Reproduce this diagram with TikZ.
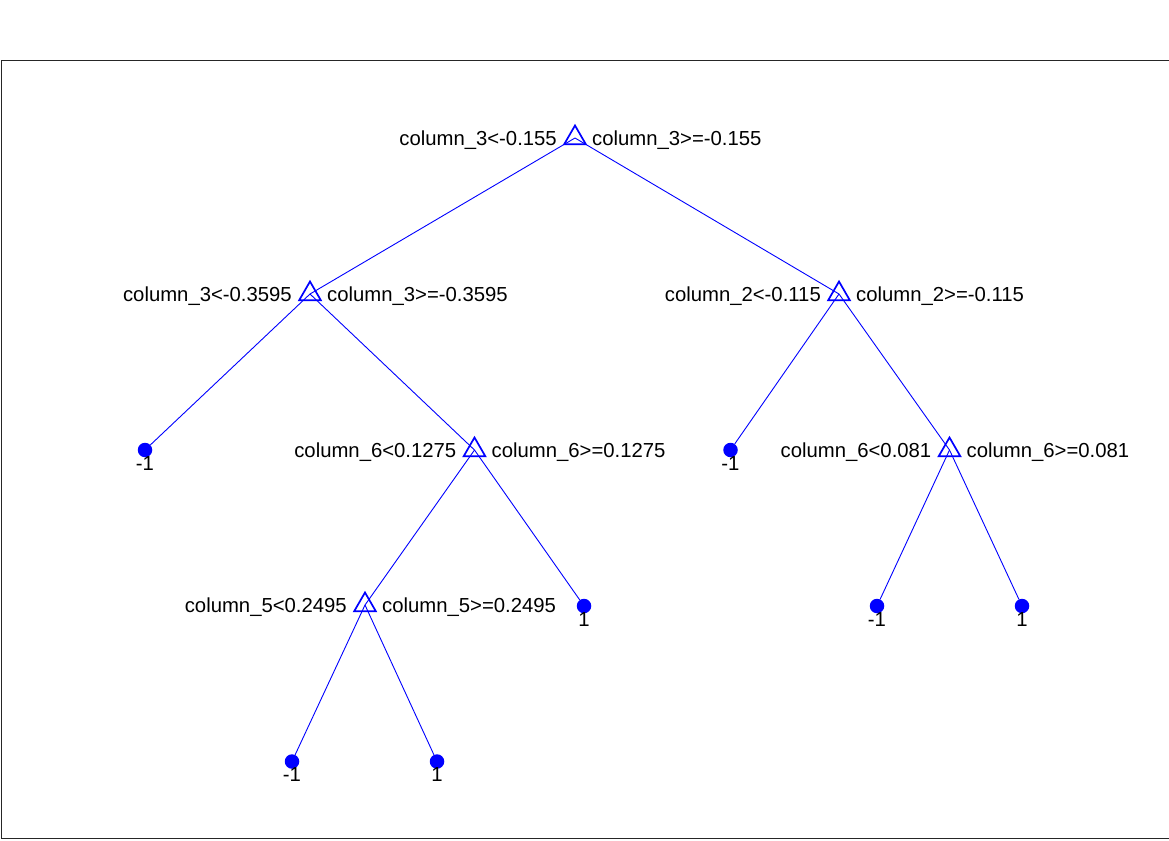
\documentclass[tikz,border=0pt]{standalone}
\usepackage{fontspec}
\setmainfont{Liberation Sans}
\usetikzlibrary{shapes.geometric}

\tikzset{
  split/.style={draw=blue, line width=1.7pt, regular polygon, regular polygon sides=3, minimum size=25pt, inner sep=0pt},
  leaf/.style={circle, fill=blue, minimum size=14.5pt, inner sep=0pt},
  edge/.style={blue, line width=0.9pt},
  cond/.style={inner sep=0pt, font=\fontsize{20.3}{24}\selectfont},
}

\begin{document}
\begin{tikzpicture}[x=1pt, y=-1pt]
\useasboundingbox (0,0) rectangle (1169,840);

\draw[line width=1pt, black!85] (1169,60.5) -- (1,60.5) -- (1,838.5) -- (1169,838.5);

% split nodes
\node[split] (root) at (575,138) {};
\node[split] (n2) at (310,294) {};
\node[split] (n3) at (839,294) {};
\node[split] (n5) at (474.5,450) {};
\node[split] (n7) at (949.5,450) {};
\node[split] (n8) at (365,605) {};

% leaves
\node[leaf] (n4) at (145,450) {};
\node[leaf] (n6) at (730.5,450) {};
\node[leaf] (n9) at (584,606) {};
\node[leaf] (n10) at (877,606) {};
\node[leaf] (n11) at (1022,606) {};
\node[leaf] (n12) at (292,761.5) {};
\node[leaf] (n13) at (437,761.5) {};

% edges
\draw[edge] (root.center) -- (n2.center);
\draw[edge] (root.center) -- (n3.center);
\draw[edge] (n2.center) -- (n4);
\draw[edge] (n2.center) -- (n5.center);
\draw[edge] (n3.center) -- (n6);
\draw[edge] (n3.center) -- (n7.center);
\draw[edge] (n5.center) -- (n8.center);
\draw[edge] (n5.center) -- (n9);
\draw[edge] (n7.center) -- (n10);
\draw[edge] (n7.center) -- (n11);
\draw[edge] (n8.center) -- (n12);
\draw[edge] (n8.center) -- (n13);

% conditions
\node[cond, anchor=base east] (root-l) at ([xshift=-18pt,yshift=-7pt]root.center) {column\_3<-0.155};
\node[cond, anchor=base west] (root-r) at ([xshift=17pt,yshift=-7pt]root.center) {column\_3>=-0.155};
\node[cond, anchor=base east] (n2-l) at ([xshift=-18pt,yshift=-7pt]n2.center) {column\_3<-0.3595};
\node[cond, anchor=base west] (n2-r) at ([xshift=17pt,yshift=-7pt]n2.center) {column\_3>=-0.3595};
\node[cond, anchor=base east] (n3-l) at ([xshift=-18pt,yshift=-7pt]n3.center) {column\_2<-0.115};
\node[cond, anchor=base west] (n3-r) at ([xshift=17pt,yshift=-7pt]n3.center) {column\_2>=-0.115};
\node[cond, anchor=base east] (n5-l) at ([xshift=-18pt,yshift=-7pt]n5.center) {column\_6<0.1275};
\node[cond, anchor=base west] (n5-r) at ([xshift=17pt,yshift=-7pt]n5.center) {column\_6>=0.1275};
\node[cond, anchor=base east] (n7-l) at ([xshift=-18pt,yshift=-7pt]n7.center) {column\_6<0.081};
\node[cond, anchor=base west] (n7-r) at ([xshift=17pt,yshift=-7pt]n7.center) {column\_6>=0.081};
\node[cond, anchor=base east] (n8-l) at ([xshift=-18pt,yshift=-7pt]n8.center) {column\_5<0.2495};
\node[cond, anchor=base west] (n8-r) at ([xshift=17pt,yshift=-7pt]n8.center) {column\_5>=0.2495};

% classes
\node[cond, anchor=base] (n4-c) at ([yshift=-20pt]n4.center) {-1};
\node[cond, anchor=base] (n6-c) at ([yshift=-20pt]n6.center) {-1};
\node[cond, anchor=base] (n9-c) at ([yshift=-20pt]n9.center) {1};
\node[cond, anchor=base] (n10-c) at ([yshift=-20pt]n10.center) {-1};
\node[cond, anchor=base] (n11-c) at ([yshift=-20pt]n11.center) {1};
\node[cond, anchor=base] (n12-c) at ([yshift=-20pt]n12.center) {-1};
\node[cond, anchor=base] (n13-c) at ([yshift=-20pt]n13.center) {1};
\end{tikzpicture}
\end{document}
